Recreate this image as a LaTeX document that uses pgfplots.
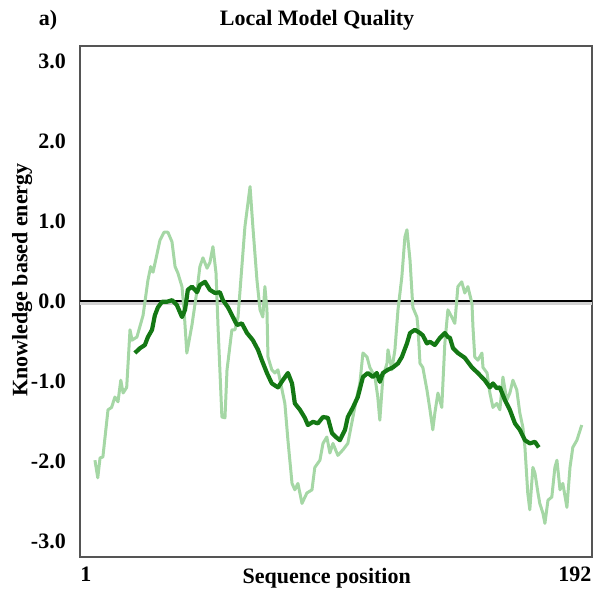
\documentclass[border=0pt]{standalone}
\usepackage{pgfplots}
\pgfplotsset{compat=1.18}
\usepackage{fontspec}
\setmainfont{Liberation Serif}
\definecolor{lightg}{RGB}{165,215,165}
\definecolor{darkg}{RGB}{20,120,20}
\definecolor{framec}{RGB}{85,85,85}
\begin{document}
\begin{tikzpicture}
\begin{axis}[
  scale only axis, width=512pt, height=511pt,
  xmin=-1.34, xmax=198.7, ymin=-3.2, ymax=3.1875,
  clip=false,
  axis line style={framec, line width=2pt},
  xtick={1,192}, xticklabels={1,192},
  ytick={-3,-2,-1,0,1,2,3}, yticklabels={-3.0,-2.0,-1.0,0.0,1.0,2.0,3.0},
  major tick length=0pt,
  tick label style={font=\fontsize{22}{24}\selectfont\bfseries, inner sep=0pt},
  yticklabel style={xshift=-14pt},
  xticklabel style={yshift=-10pt},
]
\path (rel axis cs:-0.15625,-0.066536) rectangle (rel axis cs:1.0078125,1.09002);
\addplot[gray!35, line width=3pt] coordinates {(-1.34,-0.035) (198.7,-0.035)};
\addplot[black, line width=2.2pt] coordinates {(-1.34,0) (198.7,0)};
\addplot[lightg, line width=3pt, line join=round] coordinates {
(4.5,-1.99) (5.6,-2.21) (6.5,-1.96) (7.6,-1.95) (9.6,-1.36) (11.0,-1.33) (12.3,-1.20) (13.5,-1.26) (14.6,-0.99) (15.5,-1.15) (16.9,-1.08) (18.2,-0.36) (19.0,-0.49) (20.9,-0.45) (23.3,-0.18) (25.2,0.26) (26.3,0.43) (27.2,0.36) (28.7,0.58) (29.9,0.76) (31.5,0.86) (33.0,0.86) (34.6,0.74) (35.8,0.43) (36.9,0.35) (38.5,0.18) (39.3,-0.11) (40.4,-0.65) (42.4,-0.30) (44.4,0.14) (45.5,0.43) (46.7,0.54) (48.3,0.41) (49.4,0.48) (50.6,0.68) (51.8,0.35) (52.6,-0.33) (54.1,-1.45) (55.3,-1.46) (56.1,-0.86) (58.0,-0.36) (59.2,-0.36) (60.4,-0.20) (61.9,0.43) (63.1,0.93) (65.1,1.43) (66.2,0.93) (67.8,0.26) (69.0,-0.11) (70.1,-0.20) (70.9,0.18) (71.7,-0.11) (72.1,-0.70) (73.6,-0.86) (74.8,-0.90) (76.0,-0.86) (77.6,-1.11) (78.7,-1.28) (79.9,-1.74) (81.5,-2.28) (82.6,-2.36) (83.8,-2.28) (85.4,-2.53) (87.3,-2.40) (89.3,-2.36) (90.4,-2.08) (92.4,-1.99) (93.6,-1.78) (95.1,-1.70) (96.3,-1.90) (97.5,-1.78) (99.4,-1.93) (101.4,-1.86) (103.3,-1.78) (105.3,-1.45) (106.8,-1.20) (108.0,-1.03) (109.2,-0.65) (110.8,-0.70) (111.9,-0.83) (113.9,-0.95) (115.0,-1.20) (115.8,-1.49) (117.0,-0.95) (118.6,-0.78) (119.0,-0.61) (120.5,-0.86) (121.7,-0.61) (122.9,-0.11) (124.4,0.30) (125.6,0.80) (126.4,0.89) (127.6,0.51) (128.7,-0.08) (130.3,-0.20) (130.7,-0.33) (131.5,-0.78) (132.6,-0.83) (134.2,-1.11) (135.4,-1.36) (136.5,-1.61) (137.3,-1.40) (138.5,-1.15) (140.0,-1.33) (141.2,-0.53) (142.4,-0.11) (143.9,-0.20) (145.1,-0.28) (146.3,0.18) (147.8,0.24) (149.0,0.10) (150.2,0.18) (151.8,-0.03) (152.2,-0.33) (152.9,-0.70) (154.1,-0.74) (155.7,-0.65) (156.1,-0.83) (157.7,-0.90) (158.8,-1.15) (160.0,-1.33) (161.5,-1.28) (162.7,-1.36) (163.9,-0.95) (165.4,-1.24) (166.6,-1.15) (167.8,-0.99) (169.3,-1.11) (170.5,-1.40) (171.7,-1.58) (172.5,-1.83) (173.6,-2.40) (174.4,-2.61) (175.6,-2.08) (176.4,-2.15) (177.6,-2.40) (178.3,-2.53) (179.5,-2.65) (180.3,-2.78) (181.5,-2.49) (183.0,-2.45) (184.2,-2.08) (185.0,-1.99) (186.2,-2.36) (187.3,-2.28) (188.9,-2.58) (190.1,-2.08) (191.2,-1.83) (192.8,-1.74) (194.7,-1.55)
};
\addplot[darkg, line width=4.2pt, line join=round] coordinates {
(20.1,-0.65) (22.1,-0.59) (24.0,-0.55) (25.2,-0.45) (26.8,-0.36) (27.9,-0.18) (29.1,-0.08) (30.7,-0.01) (32.6,-0.01) (34.6,0.01) (36.5,-0.05) (38.5,-0.20) (39.7,-0.11) (40.8,0.14) (42.4,0.18) (44.4,0.11) (45.5,0.20) (47.5,0.24) (49.4,0.14) (51.4,0.10) (53.3,0.11) (54.5,0.01) (56.5,-0.08) (58.4,-0.20) (60.0,-0.30) (61.9,-0.28) (63.9,-0.40) (66.2,-0.49) (68.2,-0.61) (69.7,-0.74) (71.7,-0.90) (73.6,-1.03) (76.0,-1.08) (77.9,-0.99) (79.9,-0.90) (81.5,-1.03) (82.6,-1.28) (84.6,-1.36) (86.5,-1.46) (87.7,-1.55) (89.7,-1.51) (91.6,-1.53) (93.6,-1.45) (95.5,-1.46) (97.1,-1.65) (98.6,-1.70) (100.2,-1.74) (102.2,-1.61) (103.3,-1.45) (105.3,-1.33) (107.2,-1.20) (109.2,-0.95) (111.1,-0.90) (113.1,-0.95) (114.6,-0.90) (115.8,-1.01) (117.0,-0.90) (118.9,-0.86) (120.9,-0.83) (122.9,-0.78) (124.4,-0.70) (126.4,-0.53) (127.6,-0.40) (129.5,-0.36) (131.5,-0.40) (132.6,-0.43) (134.2,-0.53) (135.4,-0.51) (137.3,-0.55) (139.3,-0.46) (141.2,-0.40) (142.4,-0.45) (143.2,-0.46) (144.4,-0.59) (146.3,-0.65) (149.0,-0.71) (151.8,-0.83) (154.1,-0.90) (156.8,-0.99) (158.8,-1.08) (160.0,-1.03) (161.5,-1.09) (162.7,-1.08) (164.7,-1.24) (166.6,-1.36) (168.6,-1.53) (170.5,-1.61) (172.5,-1.74) (174.4,-1.78) (176.4,-1.76) (177.9,-1.83)
};
\node[font=\fontsize{22}{24}\selectfont\bfseries] at (rel axis cs:0.463,1.051) {Local Model Quality};
\node[font=\fontsize{22}{24}\selectfont\bfseries] at (rel axis cs:-0.0625,1.051) {a)};
\node[font=\fontsize{22}{24}\selectfont\bfseries, rotate=90] at (rel axis cs:-0.113,0.542) {Knowledge based energy};
\node[font=\fontsize{22}{24}\selectfont\bfseries] at (rel axis cs:0.482,-0.041) {Sequence position};
\end{axis}
\end{tikzpicture}
\end{document}
